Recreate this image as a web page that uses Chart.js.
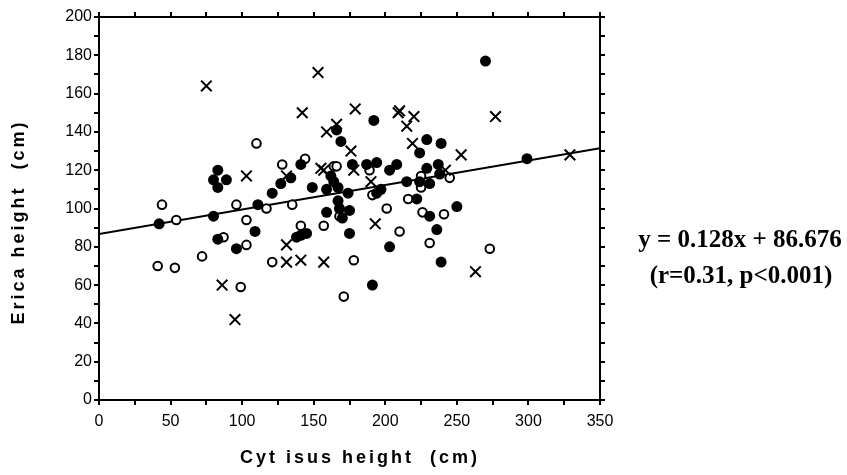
<!DOCTYPE html>
<html><head><meta charset="utf-8">
<script src="https://cdn.jsdelivr.net/npm/chart.js@4.4.1/dist/chart.umd.min.js"></script>
<style>html,body{margin:0;padding:0;background:#fff}#wrap{width:847px;height:475px;position:relative}</style>
</head><body><div id="wrap"><canvas id="c" width="847" height="475"></canvas></div>
<script>
// Data
const filledX = [42,80,83,80,89,83,83,96,109,111,121,127,134,141,149,138,141,145,159,159,162,164,167,166,169,168,170,175,174,175,177,187,192,194,191,194,197,203,203,208,215,222,224,224,229,229,231,231,236,237,238,239,239,250,270,299,167];
const filledY = [92,96,120,115,115,111,84,79,88,102,108,113,116,123,111,85,86,87,110,98,117,114,111,141,135,100,95,99,108,87,123,123,146,124,60,108,110,120,80,123,114,105,129,114,136,121,113,96,89,123,118,134,72,101,177,126,104];
const openX = [44,54,41,53,72,87,96,99,103,103,110,117,121,128,135,141,144,157,164,166,168,171,178,189,191,201,210,216,225,225,226,231,241,245,273];
const openY = [102,94,70,69,75,85,102,59,94,81,134,100,72,123,102,91,126,91,122,122,96,54,73,120,107,100,88,105,111,117,98,82,97,116,79];
const crossX = [75,86,95,103,131,131,131,141,142,153,155,157,157,159,166,176,178,179,190,193,209,210,215,220,219,242,253,263,277,329];
const crossY = [164,60,42,117,81,72,117,73,150,171,121,120,72,140,144,130,120,152,114,92,150,151,143,148,134,120,128,67,148,128];
const fitX = [0, 350];
const fitY = [86.676, 86.676 + 0.128 * 350];
const xRange = [0, 350], xStep = 25, xLabelStep = 50;
const yRange = [0, 200], yStep = 10, yLabelStep = 20;
const xTitle = 'Cyt isus height  (cm)';
const yTitle = 'Erica height  (cm)';
const eqLine1 = 'y = 0.128x + 86.676';
const eqLine2 = '(r=0.31, p<0.001)';

const toPts = (xs, ys) => xs.map((x, i) => ({x, y: ys[i]}));
const SANS = '"Liberation Sans", Arial, sans-serif';

const axisCommon = {
  grid: {drawOnChartArea: false, drawTicks: true, tickLength: 5, color: '#000', lineWidth: 2},
  border: {display: true, color: '#000', width: 2}
};

const textPlugin = {
  id: 'texts',
  afterDraw(chart) {
    const ctx = chart.ctx;
    ctx.save();
    ctx.fillStyle = '#000';
    ctx.textAlign = 'center';
    ctx.textBaseline = 'middle';
    ctx.font = 'bold 18px ' + SANS;
    ctx.letterSpacing = '3px';
    ctx.fillText(xTitle, 360, 458);
    ctx.save();
    ctx.translate(19, 222);
    ctx.rotate(-Math.PI / 2);
    ctx.fillText(yTitle, 0, 0);
    ctx.restore();
    ctx.letterSpacing = '0px';
    ctx.font = 'bold 25px "Liberation Serif", "Times New Roman", serif';
    ctx.fillText(eqLine1, 740, 241);
    ctx.fillText(eqLine2, 741, 277);
    ctx.restore();
  }
};

new Chart(document.getElementById('c'), {
  type: 'scatter',
  data: {
    datasets: [
      {data: toPts(fitX, fitY), type: 'line', borderColor: '#000', borderWidth: 2, pointRadius: 0, fill: false, order: 4},
      {data: toPts(openX, openY), pointStyle: 'circle', pointRadius: 4.3, borderWidth: 2, borderColor: '#000', backgroundColor: '#fff', order: 3},
      {data: toPts(filledX, filledY), pointStyle: 'circle', pointRadius: 5.5, borderWidth: 0, backgroundColor: '#000', borderColor: '#000', order: 2},
      {data: toPts(crossX, crossY), pointStyle: 'crossRot', pointRadius: 7.5, borderWidth: 2, borderColor: '#000', order: 1}
    ]
  },
  options: {
    responsive: false, animation: false, devicePixelRatio: 1,
    layout: {padding: 0},
    plugins: {legend: {display: false}, tooltip: {enabled: false}},
    scales: {
      x: Object.assign({}, axisCommon, {
        type: 'linear', position: 'bottom', min: xRange[0], max: xRange[1],
        ticks: {stepSize: xStep, autoSkip: false, maxRotation: 0, padding: 7, color: '#000',
          font: {family: SANS, size: 16}, callback: v => (v % xLabelStep === 0 ? String(v) : '')},
        afterFit: s => { s.height = 75; }
      }),
      x2: Object.assign({}, axisCommon, {
        type: 'linear', position: 'top', min: xRange[0], max: xRange[1],
        ticks: {stepSize: xStep, autoSkip: false, maxRotation: 0, callback: () => ''},
        afterFit: s => { s.height = 17; }
      }),
      y: Object.assign({}, axisCommon, {
        type: 'linear', position: 'left', min: yRange[0], max: yRange[1],
        ticks: {stepSize: yStep, autoSkip: false, padding: 2, color: '#000',
          font: {family: SANS, size: 16}, callback: v => (v % yLabelStep === 0 ? String(v) : '')},
        afterFit: s => { s.width = 99; }
      }),
      y2: Object.assign({}, axisCommon, {
        type: 'linear', position: 'right', min: yRange[0], max: yRange[1],
        ticks: {stepSize: yStep, autoSkip: false, callback: () => ''},
        afterFit: s => { s.width = 247; }
      })
    }
  },
  plugins: [textPlugin]
});
</script>
</body></html>
